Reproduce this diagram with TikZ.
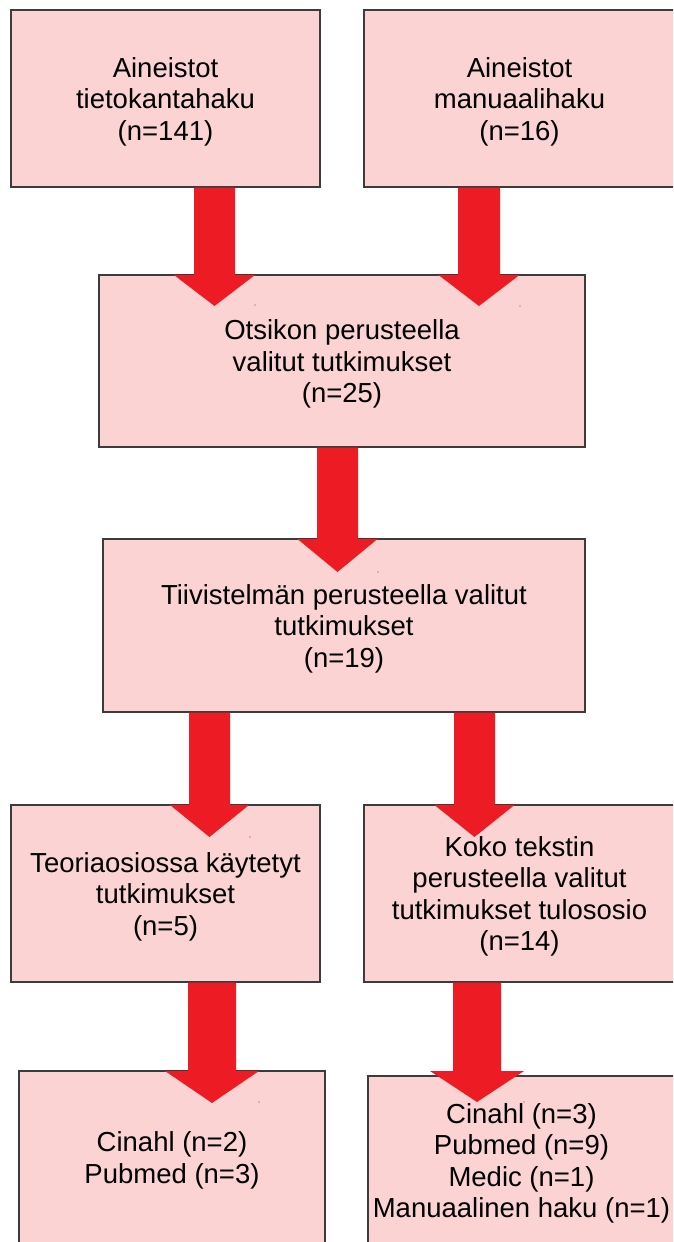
\documentclass[tikz,border=0pt]{standalone}
\usepackage{fontspec}
\setmainfont{Liberation Sans}
\definecolor{boxfill}{HTML}{FBD3D3}
\definecolor{boxline}{HTML}{3C3C3C}
\definecolor{arrred}{HTML}{ED1C24}
\newcommand\tpad{\rule{0pt}{26pt}}
\newcommand\blockarrow[5]{%
  \fill[arrred] ([xshift=-#3pt]#1) -- ([xshift=#3pt]#1) -- ([xshift=#3pt,yshift=#5pt]#2)
    -- ([xshift=#4pt,yshift=#5pt]#2) -- (#2) -- ([xshift=-#4pt,yshift=#5pt]#2)
    -- ([xshift=-#3pt,yshift=#5pt]#2) -- cycle;}
\begin{document}
\begin{tikzpicture}[x=1pt,y=-1pt,
  box/.style={draw=boxline,line width=1.3pt,fill=boxfill,inner sep=0pt,align=center,
    text=black,font=\fontsize{27.5}{31.5}\selectfont},
  speck/.style={fill=arrred!60}]
\useasboundingbox (0,0) rectangle (673,1242);
\clip (0,0) rectangle (673,1242);
\fill[white] (0,0) rectangle (673,1242);
% boxes
\node[box,minimum width=309pt,minimum height=177pt] (b1) at (165.5,98.5) {\tpad Aineistot\\tietokantahaku\\(n=141)};
\node[box,minimum width=311pt,minimum height=177pt] (b2) at (519.5,98.5) {\tpad Aineistot\\manuaalihaku\\(n=16)};
\node[box,minimum width=486pt,minimum height=172pt] (b3) at (342,361) {\tpad Otsikon perusteella\\valitut tutkimukset\\(n=25)};
\node[box,minimum width=482pt,minimum height=173pt] (b4) at (344,625.5) {\tpad Tiivistelmän perusteella valitut\\tutkimukset\\(n=19)};
\node[box,minimum width=309pt,minimum height=177pt] (b5) at (165.5,893.5) {\tpad Teoriaosiossa käytetyt\\tutkimukset\\(n=5)};
\node[box,minimum width=311pt,minimum height=177pt] (b6) at (519.5,893.5) {\tpad Koko tekstin\\perusteella valitut\\tutkimukset tulososio\\(n=14)};
\node[box,minimum width=306pt,minimum height=172.5pt] (b7) at (172,1157.25) {\tpad Cinahl (n=2)\\Pubmed (n=3)};
\node[box,minimum width=307pt,minimum height=169pt] (b8) at (521.5,1160.5) {\tpad Cinahl (n=3)\\Pubmed (n=9)\\Medic (n=1)\\Manuaalinen haku (n=1)};
% arrow tips and starts
\coordinate (t1) at (214.5,306);
\coordinate (t2) at (479,306);
\coordinate (t3) at (337.5,572);
\coordinate (t4) at (209.5,837);
\coordinate (t5) at (474.5,837);
\coordinate (t6) at (212,1103);
\coordinate (t7) at (477,1102);
\coordinate (s1) at (t1 |- b1.south);
\coordinate (s2) at (t2 |- b2.south);
\coordinate (s3) at (t3 |- b3.south);
\coordinate (s4) at (t4 |- b4.south);
\coordinate (s5) at (t5 |- b4.south);
\coordinate (s6) at (t6 |- b5.south);
\coordinate (s7) at (t7 |- b6.south);
% block arrows from box to box
\blockarrow{s1}{t1}{20.5}{40.5}{31}
\blockarrow{s2}{t2}{21}{40.5}{31}
\blockarrow{s3}{t3}{20.5}{40}{33}
\blockarrow{s4}{t4}{20.5}{39.5}{32}
\blockarrow{s5}{t5}{20.5}{40}{32}
\blockarrow{s6}{t6}{24}{47}{32}
\blockarrow{s7}{t7}{24}{47}{31}
% tiny specks
\fill[speck] (255,305) circle (0.9);
\fill[speck] (520,306) circle (0.9);
\fill[speck] (378,572) circle (0.9);
\fill[speck] (250,837) circle (0.9);
\fill[speck] (259,1102) circle (0.9);
\fill[speck] (524,1102) circle (0.9);
\end{tikzpicture}
\end{document}
